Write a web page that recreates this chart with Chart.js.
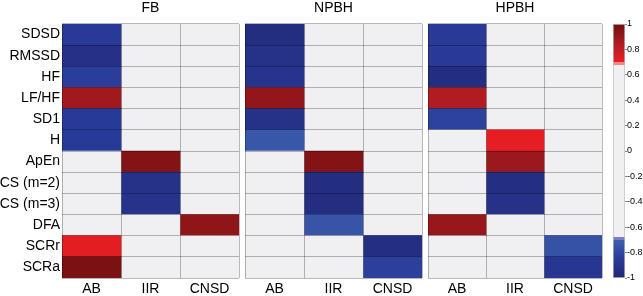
<!DOCTYPE html>
<html>
<head>
<meta charset="utf-8">
<title>Correlation heatmaps</title>
<script src="https://cdn.jsdelivr.net/npm/chart.js@4.4.1/dist/chart.umd.min.js"></script>
<style>
  html, body { margin: 0; padding: 0; background: #fff; }
  #wrap { position: relative; width: 643px; height: 296px; overflow: hidden; }
  #wrap canvas { position: absolute; left: 0; top: 0; }
</style>
</head>
<body>
<div id="wrap">
  <canvas id="fb" width="643" height="296"></canvas>
  <canvas id="npbh" width="643" height="296"></canvas>
  <canvas id="hpbh" width="643" height="296"></canvas>
  <canvas id="cbar" width="643" height="296"></canvas>
</div>
<script>
// Heatmaps of correlation between HRV / EDA features and the three scores.

const rowLabels = ['SDSD', 'RMSSD', 'HF', 'LF/HF', 'SD1', 'H', 'ApEn', 'CS (m=2)', 'CS (m=3)', 'DFA', 'SCRr', 'SCRa'];
const colLabels = ['AB', 'IIR', 'CNSD'];
const panelTitles = ['FB', 'NPBH', 'HPBH'];

// one row per feature: [AB, IIR, CNSD]; 0 = not significant (grey)
const fbValues = [
  [-0.86, 0, 0],
  [-0.93, 0, 0],
  [-0.84, 0, 0],
  [0.88, 0, 0],
  [-0.85, 0, 0],
  [-0.85, 0, 0],
  [0, 0.95, 0],
  [0, -0.92, 0],
  [0, -0.91, 0],
  [0, 0, 0.92],
  [0.72, 0, 0],
  [0.97, 0, 0],
];
const npbhValues = [
  [-0.95, 0, 0],
  [-0.92, 0, 0],
  [-0.9, 0, 0],
  [0.91, 0, 0],
  [-0.92, 0, 0],
  [-0.74, 0, 0],
  [0, 0.95, 0],
  [0, -0.95, 0],
  [0, -0.95, 0],
  [0, -0.75, 0],
  [0, 0, -0.94],
  [0, 0, -0.83],
];
const hpbhValues = [
  [-0.86, 0, 0],
  [-0.86, 0, 0],
  [-0.95, 0, 0],
  [0.84, 0, 0],
  [-0.82, 0, 0],
  [0, 0.71, 0],
  [0, 0.89, 0],
  [0, -0.94, 0],
  [0, -0.92, 0],
  [0.9, 0, 0],
  [0, 0, -0.76],
  [0, 0, -0.88],
];
const colorbarTicks = [-1, -0.8, -0.6, -0.4, -0.2, 0, 0.2, 0.4, 0.6, 0.8, 1];

// ---- styling ----
const FONT = '"Liberation Sans", Arial, Helvetica, sans-serif';
const W = 643;
const panelAreas = [[62, 239], [245, 422], [428, 602]]; // chart area left/right per panel
const LINE = 'rgba(0,0,0,0.27)';

// colormap: grey in the middle, blue ramp below -0.7, red ramp above 0.7
const cmap = [
  [-1.00, [34, 40, 118]],
  [-0.85, [40, 58, 152]],
  [-0.72, [60, 92, 172]],
  [-0.70, [60, 92, 172]],
  [-0.70, [124, 126, 194]],
  [-0.68, [124, 126, 194]],
  [-0.68, [240, 240, 242]],
  [0.68, [240, 240, 242]],
  [0.68, [242, 134, 134]],
  [0.70, [242, 134, 134]],
  [0.70, [234, 30, 36]],
  [0.85, [172, 28, 32]],
  [1.00, [110, 14, 16]],
];

function rgb(c) {
  return `rgb(${Math.round(c[0])},${Math.round(c[1])},${Math.round(c[2])})`;
}

function colorFor(v) {
  for (let i = 0; i < cmap.length - 1; i++) {
    const [a, ca] = cmap[i];
    const [b, cb] = cmap[i + 1];
    if (b > a && v >= a && v <= b) {
      const t = (v - a) / (b - a);
      return rgb(ca.map((x, k) => x + (cb[k] - x) * t));
    }
  }
  return rgb(v < 0 ? cmap[0][1] : cmap[cmap.length - 1][1]);
}

function makePanel(id, title, values, area, showRows) {
  const [left, right] = area;
  return new Chart(document.getElementById(id), {
    type: 'bar',
    data: {
      labels: rowLabels,
      datasets: colLabels.map((name, c) => ({
        label: name,
        data: rowLabels.map(() => 1),
        backgroundColor: values.map(row => colorFor(row[c])),
        borderWidth: 0,
        barPercentage: 1,
        categoryPercentage: 1,
      })),
    },
    options: {
      indexAxis: 'y',
      responsive: false,
      animation: false,
      events: [],
      layout: { padding: { left: showRows ? 0 : left, right: W - right, top: 0, bottom: 0 } },
      plugins: {
        legend: { display: false },
        tooltip: { enabled: false },
        title: {
          display: true,
          text: title,
          fullSize: false,
          color: '#000',
          font: { family: FONT, size: 14, weight: 'normal', lineHeight: 1.2 },
          padding: { top: 0, bottom: 7.2 },
        },
      },
      scales: {
        x: {
          type: 'linear',
          stacked: true,
          min: 0,
          max: 3,
          afterBuildTicks: s => { s.ticks = colLabels.map((_, i) => ({ value: i + 0.5 })); },
          afterFit: s => { s.height = 18; },
          ticks: {
            callback: (v, i) => colLabels[i],
            color: '#000',
            font: { family: FONT, size: 14 },
            padding: 3,
            autoSkip: false,
            maxRotation: 0,
          },
          grid: { offset: true, color: LINE, drawTicks: false, z: 1 },
          border: { display: false },
        },
        y: {
          stacked: true,
          afterFit: s => { s.width = showRows ? left : 0; },
          ticks: {
            display: showRows,
            color: '#000',
            font: { family: FONT, size: 14 },
            padding: 2,
            autoSkip: false,
          },
          grid: { offset: true, color: LINE, drawTicks: false, z: 1 },
          border: { display: false },
        },
      },
    },
  });
}

makePanel('fb', panelTitles[0], fbValues, panelAreas[0], true);
makePanel('npbh', panelTitles[1], npbhValues, panelAreas[1], false);
makePanel('hpbh', panelTitles[2], hpbhValues, panelAreas[2], false);

// colour bar: one floating bar from -1 to 1 painted with the colormap
function barGradient(context) {
  const area = context.chart.chartArea;
  if (!area) return '#f0f0f2';
  const g = context.chart.ctx.createLinearGradient(0, area.bottom, 0, area.top);
  cmap.forEach(([v, c]) => g.addColorStop((v + 1) / 2, rgb(c)));
  return g;
}

function fmtTick(v) {
  return String(Math.round(v * 10) / 10);
}

new Chart(document.getElementById('cbar'), {
  type: 'bar',
  data: {
    labels: [''],
    datasets: [{
      data: [[-1, 1]],
      backgroundColor: barGradient,
      borderColor: 'rgba(0,0,0,0.25)',
      borderWidth: 1,
      borderSkipped: false,
      barPercentage: 1,
      categoryPercentage: 1,
    }],
  },
  options: {
    responsive: false,
    animation: false,
    events: [],
    layout: { padding: { left: 613, right: 0, top: 24, bottom: 18 } },
    plugins: { legend: { display: false }, tooltip: { enabled: false } },
    scales: {
      x: { display: false },
      y: {
        position: 'right',
        min: -1,
        max: 1,
        afterBuildTicks: s => { s.ticks = colorbarTicks.map(v => ({ value: v })); },
        afterFit: s => { s.width = 18; },
        ticks: {
          callback: v => fmtTick(v),
          color: '#000',
          font: { family: FONT, size: 9 },
          padding: 0,
          autoSkip: false,
        },
        grid: { drawOnChartArea: false, tickLength: 2, color: '#888' },
        border: { display: false },
      },
    },
  },
});
</script>
</body>
</html>
